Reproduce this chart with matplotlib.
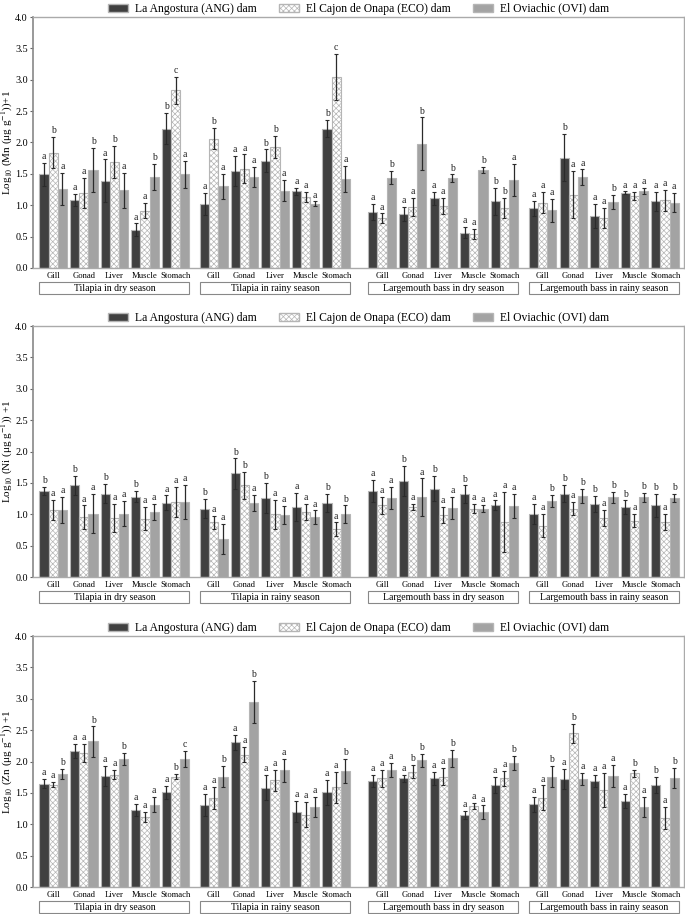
import matplotlib
matplotlib.use("Agg")
import matplotlib.pyplot as plt
from matplotlib.patches import Rectangle, Patch
import numpy as np

plt.rcParams['font.family'] = ['Liberation Serif', 'DejaVu Serif']
plt.rcParams['mathtext.fontset'] = 'stix'
plt.rcParams['hatch.color'] = '#b8b8b8'
plt.rcParams['hatch.linewidth'] = 0.5

organs = ["Gill", "Gonad", "Liver", "Muscle", "Stomach"]
groups = ["Tilapia in dry season", "Tilapia in rainy season",
          "Largemouth bass in dry season", "Largemouth bass in rainy season"]
dams = ["La Angostura (ANG) dam", "El Cajon de Onapa (ECO) dam", "El Oviachic (OVI) dam"]

# Mn
mn_ang = [1.49, 1.08, 1.39, 0.61, 2.22, 1.02, 1.55, 1.71, 1.22, 2.22,
          0.89, 0.86, 1.11, 0.56, 1.06, 0.95, 1.76, 0.83, 1.20, 1.06]
mn_ang_err = [0.19, 0.10, 0.34, 0.10, 0.25, 0.17, 0.24, 0.18, 0.06, 0.14,
              0.13, 0.11, 0.10, 0.09, 0.22, 0.12, 0.37, 0.19, 0.02, 0.15]
mn_eco = [1.84, 1.20, 1.69, 0.91, 2.83, 2.06, 1.58, 1.93, 1.13, 3.04,
          0.79, 0.97, 0.99, 0.54, 0.95, 1.04, 1.17, 0.79, 1.15, 1.08]
mn_eco_err = [0.25, 0.24, 0.25, 0.12, 0.22, 0.17, 0.23, 0.18, 0.08, 0.37,
              0.08, 0.14, 0.13, 0.08, 0.16, 0.17, 0.38, 0.16, 0.06, 0.17]
mn_ovi = [1.26, 1.56, 1.24, 1.45, 1.49, 1.30, 1.45, 1.23, 1.02, 1.42,
          1.44, 1.98, 1.43, 1.56, 1.40, 0.92, 1.45, 1.05, 1.23, 1.04]
mn_ovi_err = [0.25, 0.35, 0.28, 0.21, 0.22, 0.20, 0.16, 0.17, 0.04, 0.21,
              0.10, 0.42, 0.06, 0.05, 0.26, 0.18, 0.12, 0.11, 0.05, 0.15]
mn_ang_let = "a a a a b a a b a b a a a a b a b a a a".split()
mn_eco_let = "b a b a c b a b a c a a a a b a a a a a".split()
mn_ovi_let = "a b a b a a a a a a b b b b a a a b a a".split()

# Ni
ni_ang = [1.37, 1.46, 1.33, 1.28, 1.18, 1.09, 1.65, 1.26, 1.12, 1.18,
          1.37, 1.53, 1.41, 1.32, 1.14, 1.00, 1.33, 1.16, 1.11, 1.14]
ni_ang_err = [0.07, 0.15, 0.15, 0.09, 0.12, 0.15, 0.24, 0.24, 0.22, 0.14,
              0.17, 0.24, 0.20, 0.14, 0.08, 0.16, 0.14, 0.13, 0.11, 0.18]
ni_eco = [1.07, 0.95, 0.94, 0.93, 1.20, 0.87, 1.46, 1.00, 1.04, 0.76,
          1.14, 1.11, 0.99, 1.09, 0.88, 0.82, 1.09, 0.94, 0.90, 0.88]
ni_eco_err = [0.16, 0.19, 0.23, 0.18, 0.24, 0.10, 0.21, 0.23, 0.13, 0.11,
              0.13, 0.05, 0.13, 0.07, 0.48, 0.19, 0.10, 0.13, 0.11, 0.13]
ni_ovi = [1.07, 1.01, 1.01, 1.04, 1.20, 0.60, 1.18, 0.99, 0.95, 1.00,
          1.26, 1.27, 1.10, 1.09, 1.13, 1.21, 1.29, 1.27, 1.27, 1.26]
ni_ovi_err = [0.21, 0.31, 0.20, 0.13, 0.27, 0.24, 0.13, 0.14, 0.11, 0.14,
              0.17, 0.30, 0.18, 0.05, 0.19, 0.10, 0.11, 0.09, 0.07, 0.07]
ni_ang_let = "b b b b a b b b a b a b b b a a b b b b".split()
ni_eco_let = "a a a a a a b a a a a a a a a a a a a a".split()
ni_ovi_let = "a a a a a a a a a b a a a a a b b b b b".split()

# Zn
zn_ang = [1.65, 2.17, 1.77, 1.23, 1.51, 1.31, 2.31, 1.58, 1.20, 1.51,
          1.69, 1.73, 1.73, 1.15, 1.63, 1.32, 1.72, 1.69, 1.37, 1.63]
zn_ang_err = [0.07, 0.11, 0.16, 0.09, 0.10, 0.17, 0.12, 0.20, 0.17, 0.20,
              0.09, 0.05, 0.10, 0.06, 0.13, 0.12, 0.16, 0.09, 0.11, 0.13]
zn_eco = [1.63, 2.14, 1.79, 1.11, 1.76, 1.42, 2.11, 1.70, 1.15, 1.59,
          1.73, 1.84, 1.76, 1.29, 1.73, 1.42, 2.45, 1.55, 1.81, 1.10]
zn_eco_err = [0.04, 0.14, 0.07, 0.08, 0.04, 0.17, 0.12, 0.17, 0.20, 0.25,
              0.14, 0.10, 0.14, 0.05, 0.12, 0.20, 0.15, 0.27, 0.06, 0.17]
zn_ovi = [1.80, 2.32, 2.04, 1.31, 2.04, 1.76, 2.95, 1.86, 1.27, 1.85,
          1.87, 2.02, 2.05, 1.19, 1.98, 1.76, 1.72, 1.77, 1.27, 1.74]
zn_ovi_err = [0.08, 0.24, 0.10, 0.12, 0.13, 0.17, 0.33, 0.18, 0.16, 0.19,
              0.11, 0.10, 0.13, 0.11, 0.11, 0.17, 0.10, 0.18, 0.16, 0.16]
zn_ang_let = "a a a a a a a a a a a a a a a a a a a b".split()
zn_eco_let = "a a a a b a a a a a a b a a a a b a b a".split()
zn_ovi_let = "b b b a c b b a a b a b b a b b a a a b".split()

ylabels = ["Log$_{10}$ (Mn (μg g$^{-1}$))+1",
           "Log$_{10}$ (Ni (μg g$^{-1}$)) +1",
           "Log$_{10}$ (Zn (μg g$^{-1}$)) +1"]

group_start = [0, 5.25, 10.75, 16.0]
x = np.array([group_start[g] + i for g in range(4) for i in range(5)])

colors = ['#404040', 'white', '#a3a3a3']
hatches = [None, 'xxxxxx', None]
w = 0.3

panels = [
    ([mn_ang, mn_eco, mn_ovi], [mn_ang_err, mn_eco_err, mn_ovi_err], [mn_ang_let, mn_eco_let, mn_ovi_let]),
    ([ni_ang, ni_eco, ni_ovi], [ni_ang_err, ni_eco_err, ni_ovi_err], [ni_ang_let, ni_eco_let, ni_ovi_let]),
    ([zn_ang, zn_eco, zn_ovi], [zn_ang_err, zn_eco_err, zn_ovi_err], [zn_ang_let, zn_eco_let, zn_ovi_let]),
]

fig = plt.figure(figsize=(6.85, 9.14), dpi=100)
bottoms = [0.7068, 0.3687, 0.0295]

for p, (vals, errs, lets) in enumerate(panels):
    ax = fig.add_axes([0.0482, bottoms[p], 0.9504, 0.2746])
    for d in range(3):
        xs = x + (d - 1) * w
        ax.bar(xs, vals[d], width=w, color=colors[d], edgecolor='#b5b5b5',
               linewidth=0.8, hatch=hatches[d], label=dams[d], zorder=2)
        ax.errorbar(xs, vals[d], yerr=errs[d], fmt='none', ecolor='#2b2b2b',
                    elinewidth=0.9, capsize=1.5, capthick=0.8, zorder=3)
        for k in range(20):
            ax.text(xs[k], vals[d][k] + errs[d][k] + 0.03, lets[d][k],
                    ha='center', va='bottom', fontsize=7, color='#222222')
    ax.set_ylim(0, 4.0)
    ax.set_xlim(-0.66, 20.62)
    ax.set_yticks(np.arange(0, 4.01, 0.5))
    ax.set_yticklabels(["%.1f" % t for t in np.arange(0, 4.01, 0.5)], fontsize=7.3)
    ax.set_xticks(x)
    ax.set_xticklabels(organs * 4, fontsize=6.2)
    ax.tick_params(axis='x', length=0, pad=3)
    ax.tick_params(axis='y', length=2.5, width=0.8, color='#666666', pad=1.2)
    ax.set_ylabel(ylabels[p], fontsize=8)
    ax.yaxis.set_label_coords(-0.028, 0.5)
    for s in ['top', 'right', 'bottom']:
        ax.spines[s].set_color('#aaaaaa')
        ax.spines[s].set_linewidth(1.0)
    ax.spines['left'].set_color('#888888')
    ax.spines['left'].set_linewidth(1.2)

    tr = ax.get_xaxis_transform()
    for g in range(4):
        x0 = group_start[g] - 0.45
        x1 = group_start[g] + 4.45
        ax.add_patch(Rectangle((x0, -0.105), x1 - x0, 0.05, transform=tr,
                               fill=False, edgecolor='#888888', linewidth=0.8,
                               clip_on=False))
        ax.text((x0 + x1) / 2, -0.08, groups[g], transform=tr, ha='center',
                va='center', fontsize=7)

    handles = [Patch(facecolor=colors[d], edgecolor='#b5b5b5', hatch=hatches[d]) for d in range(3)]
    ax.legend(handles, dams, loc='lower center', bbox_to_anchor=(0.5, 1.0), ncol=3,
              frameon=False, fontsize=8.4, handlelength=1.7, handleheight=0.7,
              columnspacing=1.9, handletextpad=0.6, borderaxespad=0.1, borderpad=0.1)

fig.savefig("out.png", dpi=100)
